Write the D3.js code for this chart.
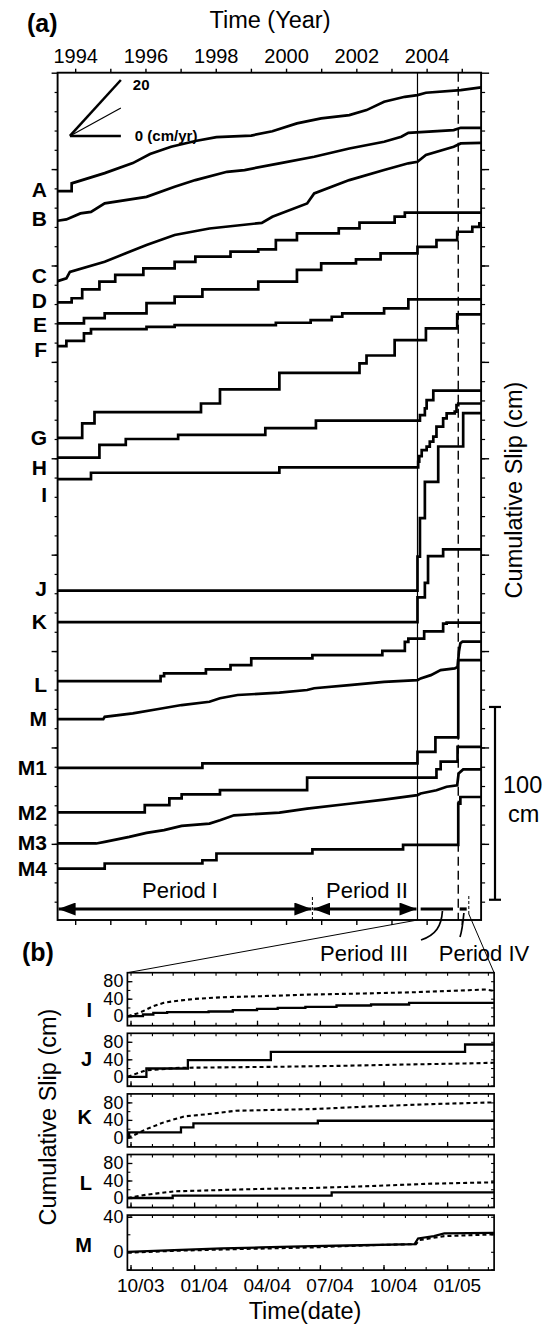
<!DOCTYPE html>
<html>
<head>
<meta charset="utf-8">
<script src="https://cdn.jsdelivr.net/npm/d3@7"></script>
<style>
  body { margin: 0; background: #fff; }
  text { font-family: "Liberation Sans", Arial, Helvetica, sans-serif; fill: #000; }
</style>
</head>
<body>
<svg id="chart" width="547" height="1326"></svg>
<script>
// ---------------- data: panel (a) ----------------
const years = d3.range(1994, 2006);
const yearLabels = [1994, 1996, 1998, 2000, 2002, 2004];
const stations = ['A', 'B', 'C', 'D', 'E', 'F', 'G', 'H', 'I', 'J', 'K', 'L', 'M', 'M1', 'M2', 'M3', 'M4'];
// level (cm on the stacked axis) where each station's curve begins
const startLevel = [378.6, 363.2, 331.9, 320.9, 310.0, 298.2, 250.6, 240.3, 229.2, 171.4, 155.0, 124.4, 104.7, 79.4, 56.3, 40.2, 27.2];
// [year, cumulative slip cm]
const slipA = [[1993.5, 0], [1993.9, 0], [1993.9, 4], [1994.84, 9.3], [1995.64, 14.5], [1996.13, 19.2], [1996.73, 23.0], [1997.42, 26.0], [1998.02, 28.0], [1999.01, 28.8], [1999.61, 31.0], [2000.31, 35.1], [2001.0, 37.7], [2001.8, 39.4], [2002.29, 42.0], [2002.79, 46.3], [2003.38, 48.9], [2003.74, 49.8], [2003.98, 51.0], [2004.97, 52.4], [2005.55, 53.8]];
const slipB = [[1993.5, 0], [1993.75, 0.7], [1994.15, 3.8], [1994.45, 4.6], [1994.84, 9.0], [1996.03, 12.4], [1996.83, 17.6], [1997.42, 21.1], [1998.32, 25.4], [1998.82, 26.3], [1999.81, 29.8], [2000.8, 33.2], [2001.8, 37.5], [2002.79, 41.0], [2003.28, 43.6], [2003.48, 45.6], [2004.77, 47.0], [2004.97, 48.2], [2005.55, 48.2]];
const slipC = [[1993.5, 0], [1993.75, 1.4], [1993.85, 4.8], [1994.84, 10.0], [1995.44, 14.4], [1996.03, 18.7], [1996.83, 23.9], [1997.82, 27.3], [1999.31, 30.2], [1999.61, 33.4], [2000.6, 40.3], [2000.8, 45.5], [2001.8, 52.4], [2002.79, 57.6], [2003.48, 61.1], [2003.74, 61.9], [2003.98, 65.4], [2004.77, 69.7], [2004.97, 71.4], [2005.55, 71.7]];
const slipD = [[1993.5, 0], [1993.9, 2.1], [1994.2, 6.7], [1994.69, 10.7], [1995.14, 14.2], [1995.94, 17.6], [1996.83, 21.0], [1997.42, 23.7], [1998.42, 26.3], [1999.21, 27.5], [1999.71, 32.3], [2000.31, 35.8], [2001.5, 38.4], [2002.09, 41.3], [2003.09, 44.4], [2003.38, 46.5]];
const slipE = [[1993.5, 0], [1994.25, 2.7], [1994.84, 5.2], [1996.03, 10.5], [1996.83, 13.8], [1997.62, 17.6], [1999.21, 21.6], [2000.31, 27.7], [2001.0, 31.1], [2001.99, 33.2], [2002.69, 36.3], [2003.74, 39.7], [2004.28, 43.2], [2004.87, 47.5], [2005.3, 50.0], [2005.5, 51.9]];
const slipF = [[1993.5, 0], [1993.75, 2.7], [1994.25, 6.6], [1994.45, 8.8], [1996.03, 10.0], [1996.83, 10.9], [1999.71, 12.1], [2000.7, 13.5], [2001.3, 15.2], [2001.6, 17.0], [2002.79, 19.6], [2003.48, 24.2]];
const slipG = [[1993.5, 0], [1994.2, 7.5], [1994.55, 13.3], [1997.58, 17.8], [1998.12, 25.1], [1999.81, 33.7], [2002.09, 38.6], [2002.29, 42.7], [2003.09, 50.7], [2003.98, 56.8], [2004.87, 64.0]];
const slipH = [[1993.5, 0], [1994.69, 6.6], [1995.44, 9.7], [1996.93, 11.8], [1999.41, 15.3], [2000.85, 19.2], [2003.81, 22.1], [2003.95, 25.6], [2004.0, 29.9], [2004.19, 34.8]];
const slipI = [[1993.5, 0], [1994.45, 3.3], [1999.81, 6.1], [2003.76, 9.0], [2003.79, 11.9], [2003.86, 15.0], [2004.0, 16.8], [2004.09, 19.4], [2004.19, 22.0], [2004.28, 27.2], [2004.47, 31.5], [2004.57, 34.1], [2004.8, 35.0], [2004.85, 38.4], [2004.9, 39.2]];
const slipJ = [[1993.5, 0], [2003.74, 17.6], [2003.81, 37.6], [2003.95, 56.4], [2004.33, 74.7], [2005.04, 92.0]];
const slipK = [[1993.5, 0], [2003.74, 12.8], [2003.95, 20.4], [2004.04, 34.2], [2004.47, 37.7]];
const slipL = [[1993.5, 0], [1996.43, 2.6], [1996.53, 4.0], [1997.72, 6.1], [1998.42, 8.3], [1999.01, 11.8], [2000.75, 13.5], [2002.74, 15.7], [2003.38, 20.4], [2003.48, 22.0], [2003.93, 25.8], [2004.47, 29.8], [2004.57, 30.4]];
const slipM = [[1993.5, 0], [1994.8, 0], [1994.84, 1.2], [1995.64, 3.0], [1996.33, 5.1], [1997.03, 7.3], [1997.82, 9.0], [1998.12, 10.8], [1998.62, 12.5], [1999.81, 13.7], [2000.6, 15.1], [2000.8, 16.0], [2001.8, 17.6], [2002.79, 19.3], [2003.74, 20.2], [2003.83, 21.1], [2004.12, 22.8], [2004.4, 25.4], [2004.8, 26.3], [2004.88, 27.1], [2004.92, 35.0], [2004.96, 39.4], [2005.02, 40.2], [2005.55, 40.2]];
const slipM1 = [[1993.5, 0], [1997.62, 2.3], [2003.74, 8.3], [2004.25, 15.8], [2004.9, 55.9]];
const slipM2 = [[1993.5, 0], [1995.98, 3.8], [1996.68, 7.3], [1997.03, 9.4], [1998.12, 11.6], [2000.6, 18.0], [2004.28, 22.4], [2004.4, 26.3], [2004.88, 34.0]];
const slipM3 = [[1993.5, 0], [1994.6, 0], [1994.84, 0.8], [1995.54, 3.4], [1996.03, 5.5], [1996.53, 6.9], [1997.03, 9.1], [1997.82, 10.3], [1998.12, 12.0], [1998.52, 14.6], [1999.81, 16.0], [2000.6, 18.1], [2001.8, 20.6], [2002.79, 22.7], [2003.74, 25.1], [2003.83, 25.9], [2004.28, 27.6], [2004.57, 29.4], [2004.87, 30.2], [2004.91, 36.3], [2005.04, 38.4], [2005.55, 38.4]];
const slipM4 = [[1993.5, 0], [1994.84, 2.6], [1997.62, 4.3], [1998.02, 7.8], [2000.75, 9.9], [2003.33, 12.3], [2004.9, 33.7], [2004.96, 37.1]];
const smoothStations = ['A', 'B', 'C', 'M', 'M3'];
const quakeYears = [2003.74, 2004.9];
const periodNames = ['Period I', 'Period II', 'Period III', 'Period IV'];
const periodStart = [1993.5, 2000.75, 2003.83, 2004.94];
const periodEnd = [2000.75, 2003.74, 2004.75, 2005.14];
const rateLegend = [0, 10, 20];      // cm/yr
const scaleBarCm = [11, 111];        // the 100 cm bar

// ---------------- data: panel (b) ----------------
const bPanels = ['I', 'J', 'K', 'L', 'M'];
const bSolidI = [['2003-09-27', 0], ['2003-10-19', 3.9], ['2003-11-03', 7.7], ['2003-11-23', 9.1], ['2004-01-22', 10.7], ['2004-02-26', 13.7], ['2004-04-01', 16.8], ['2004-05-01', 19.2], ['2004-06-10', 21.5], ['2004-07-25', 24.5], ['2004-09-13', 26.7], ['2004-11-07', 30.5]];
const bDashI = [['2003-09-27', 0], ['2003-10-14', 7.7], ['2003-11-03', 22.9], ['2003-11-18', 30.5], ['2003-12-03', 34.3], ['2004-01-02', 39.6], ['2004-02-11', 43.4], ['2004-04-06', 45.7], ['2004-06-20', 49.6], ['2004-09-03', 51.9], ['2004-11-17', 54.9], ['2005-02-01', 59.4], ['2005-02-26', 61.0], ['2005-03-08', 58.0]];
const bSolidJ = [['2003-09-27', 0], ['2003-10-24', 19.0], ['2003-12-23', 38.0], ['2004-04-21', 57.1], ['2005-01-27', 73.8]];
const bDashJ = [['2003-09-27', 0], ['2003-10-14', 10.0], ['2003-10-24', 15.1], ['2003-12-13', 20.6], ['2004-05-01', 22.9], ['2004-08-01', 25.1], ['2004-11-07', 28.2], ['2005-01-27', 30.5], ['2005-03-08', 32.0]];
const bSolidK = [['2003-09-27', 0], ['2003-09-29', 11.4], ['2003-12-13', 22.9], ['2003-12-31', 32.0], ['2004-06-28', 38.0]];
const bDashK = [['2003-09-27', 0], ['2003-10-04', 3.7], ['2003-10-24', 19.0], ['2003-11-18', 34.3], ['2003-12-18', 48.0], ['2004-01-22', 53.3], ['2004-03-01', 60.9], ['2004-06-20', 64.7], ['2004-09-13', 70.8], ['2004-12-10', 76.1], ['2005-03-08', 80.0]];
const bSolidL = [['2003-09-27', 0], ['2003-12-01', 5.3], ['2004-07-18', 12.8]];
const bDashL = [['2003-09-27', 0], ['2003-10-24', 7.6], ['2003-12-03', 15.2], ['2004-04-01', 20.6], ['2004-06-20', 22.9], ['2004-09-03', 26.7], ['2004-12-10', 32.8], ['2005-03-08', 35.8]];
const bSolidM = [['2003-09-27', 0], ['2003-12-03', 1.9], ['2004-02-11', 3.8], ['2004-04-06', 5.0], ['2004-06-20', 6.5], ['2004-08-10', 7.2], ['2004-11-15', 8.8], ['2004-11-20', 15.2], ['2004-12-13', 17.9], ['2004-12-28', 21.0], ['2005-03-08', 21.7]];
const bDashM = [['2003-09-27', -1.1], ['2003-12-03', 1.1], ['2004-03-01', 3.0], ['2004-06-20', 5.0], ['2004-09-13', 7.6], ['2004-11-17', 8.8], ['2004-11-22', 13.4], ['2004-12-28', 17.9], ['2005-03-08', 19.8]];
const bDomain = [[-21.7, 99.4], [-21.7, 99.4], [-21.7, 99.4], [-21.7, 99.4], [-20.9, 41.9]];
const bTickLabels = ['10/03', '01/04', '04/04', '07/04', '10/04', '01/05'];

// ---------------- layout ----------------
const svg = d3.select('#chart');
const labelDy = { A: 6, B: 5, C: 2, D: 6, E: 9, F: 11, G: 7, H: 17, I: 23, J: 5, K: 7, L: 11, M: 7, M1: 7, M2: 8, M3: 7, M4: 7 };
const bLabelDy = { I: 44, J: 33, K: 30, L: 35, M: 37 };

const x = d3.scaleLinear().domain([1993.5, 2005.55]).range([57.6, 481.1]);
const y = d3.scaleLinear().domain([0.5, 440]).range([920, 72.7]);
const [xL, xR] = x.range();
const [yB, yT] = y.range();

function styleAxis(g, w) {
  g.select('.domain').remove();
  g.selectAll('.tick line').attr('stroke', '#000').attr('stroke-width', w);
}

// titles
svg.append('text').attr('x', 27).attr('y', 32).attr('font-size', 25).attr('font-weight', 'bold').text('(a)');
svg.append('text').attr('x', 270).attr('y', 28).attr('font-size', 23.5).attr('text-anchor', 'middle').text('Time (Year)');

// year axes
svg.append('g').attr('transform', `translate(0,${yT})`)
  .call(d3.axisTop(x).tickValues(years).tickSize(4).tickPadding(6)
    .tickFormat(d => yearLabels.includes(d) ? d : ''))
  .call(g => styleAxis(g, 1.4))
  .call(g => g.selectAll('text').attr('font-size', 20).attr('font-family', null));
svg.append('g').attr('transform', `translate(0,${yB})`)
  .call(d3.axisBottom(x).tickValues(years).tickSize(5).tickFormat(''))
  .call(g => styleAxis(g, 1.4));

// level axes, left and right
const minorLevels = d3.range(10, 440, 10);
const majorLevels = d3.range(40, 441, 50);
svg.append('g').attr('transform', `translate(${xL},0)`)
  .call(d3.axisLeft(y).tickValues(minorLevels).tickSize(3).tickFormat(''))
  .call(g => styleAxis(g, 1.2));
svg.append('g').attr('transform', `translate(${xL},0)`)
  .call(d3.axisLeft(y).tickValues(majorLevels).tickSize(6).tickFormat(''))
  .call(g => styleAxis(g, 1.4));
svg.append('g').attr('transform', `translate(${xR},0)`)
  .call(d3.axisRight(y).tickValues(minorLevels).tickSize(4).tickFormat(''))
  .call(g => styleAxis(g, 1.2));
svg.append('g').attr('transform', `translate(${xR},0)`)
  .call(d3.axisRight(y).tickValues(majorLevels).tickSize(8).tickFormat(''))
  .call(g => styleAxis(g, 1.4));

svg.append('defs').append('clipPath').attr('id', 'clipA')
  .append('rect').attr('x', xL).attr('y', yT).attr('width', xR - xL).attr('height', yB - yT);

// earthquake markers
svg.append('line').attr('x1', x(quakeYears[0])).attr('x2', x(quakeYears[0]))
  .attr('y1', yT).attr('y2', yB).attr('stroke', '#000').attr('stroke-width', 1.2);
svg.append('line').attr('x1', x(quakeYears[1])).attr('x2', x(quakeYears[1]))
  .attr('y1', yT).attr('y2', yB).attr('stroke', '#000').attr('stroke-width', 1.4)
  .attr('stroke-dasharray', '9,5');

// station curves
const slipSeries = [slipA, slipB, slipC, slipD, slipE, slipF, slipG, slipH, slipI, slipJ, slipK, slipL, slipM, slipM1, slipM2, slipM3, slipM4];
const curves = svg.append('g').attr('clip-path', 'url(#clipA)');
stations.forEach((s, i) => {
  const pts = slipSeries[i].map(([yr, v]) => [yr, startLevel[i] + v]);
  const last = pts[pts.length - 1];
  if (last[0] < 2005.55) pts.push([2005.55, last[1]]);
  const line = d3.line().x(d => x(d[0])).y(d => y(d[1]))
    .curve(smoothStations.includes(s) ? d3.curveLinear : d3.curveStepAfter);
  curves.append('path').attr('d', line(pts)).attr('fill', 'none')
    .attr('stroke', '#000').attr('stroke-width', 2.7).attr('stroke-linejoin', 'miter');
  svg.append('text').attr('x', 47).attr('y', y(startLevel[i]) + labelDy[s])
    .attr('text-anchor', 'end').attr('font-size', 21).attr('font-weight', 'bold').text(s);
});

// frame
svg.append('rect').attr('x', xL).attr('y', yT).attr('width', xR - xL).attr('height', yB - yT)
  .attr('fill', 'none').attr('stroke', '#000').attr('stroke-width', 1.9);

// rate legend
const rateX0 = 1993.85, rateLen = 1.45, rateLevel = 407.2;
rateLegend.forEach(r => {
  svg.append('line').attr('x1', x(rateX0)).attr('y1', y(rateLevel))
    .attr('x2', x(rateX0 + rateLen)).attr('y2', y(rateLevel + r * rateLen))
    .attr('stroke', '#000').attr('stroke-width', r === 10 ? 1.2 : 2.5);
});
svg.append('text').attr('x', x(rateX0 + rateLen) + 12).attr('y', y(rateLevel + 20 * rateLen) + 10)
  .attr('font-size', 15).attr('font-weight', 'bold').text('20');
svg.append('text').attr('x', x(rateX0 + rateLen) + 14).attr('y', y(rateLevel) + 5)
  .attr('font-size', 15).attr('font-weight', 'bold').text('0 (cm/yr)');

// right axis title and 100 cm bar
svg.append('text').attr('transform', 'translate(522,490) rotate(-90)')
  .attr('text-anchor', 'middle').attr('font-size', 23.5).text('Cumulative Slip (cm)');
const barX = 495;
svg.append('line').attr('x1', barX).attr('x2', barX).attr('y1', y(scaleBarCm[0])).attr('y2', y(scaleBarCm[1]))
  .attr('stroke', '#000').attr('stroke-width', 2.2);
scaleBarCm.forEach(v => svg.append('line').attr('x1', barX - 6).attr('x2', barX + 6)
  .attr('y1', y(v)).attr('y2', y(v)).attr('stroke', '#000').attr('stroke-width', 2.2));
svg.append('text').attr('x', 503).attr('y', 793).attr('font-size', 23.5).text('100');
svg.append('text').attr('x', 508).attr('y', 822).attr('font-size', 23.5).text('cm');

// periods
const defs = svg.select('defs');
defs.append('marker').attr('id', 'arrow').attr('viewBox', '0 0 17 13')
  .attr('refX', 17).attr('refY', 6.5).attr('markerWidth', 17).attr('markerHeight', 13)
  .attr('markerUnits', 'userSpaceOnUse').attr('orient', 'auto-start-reverse')
  .append('path').attr('d', 'M0,0L17,6.5L0,13Z').attr('fill', '#000');
const periodY = 909;
[0, 1].forEach(i => {
  svg.append('line').attr('x1', x(periodStart[i]) + 1).attr('x2', x(periodEnd[i]) - 1)
    .attr('y1', periodY).attr('y2', periodY).attr('stroke', '#000').attr('stroke-width', 3.2)
    .attr('marker-start', 'url(#arrow)').attr('marker-end', 'url(#arrow)');
  svg.append('text').attr('x', (x(periodStart[i]) + x(periodEnd[i])) / 2 - (i === 0 ? 5 : -2)).attr('y', 898)
    .attr('text-anchor', 'middle').attr('font-size', 22).text(periodNames[i]);
});
[2, 3].forEach(i => {
  svg.append('line').attr('x1', x(periodStart[i])).attr('x2', x(periodEnd[i]))
    .attr('y1', periodY).attr('y2', periodY).attr('stroke', '#000').attr('stroke-width', 3.2);
});
svg.append('line').attr('x1', x(periodEnd[0])).attr('x2', x(periodEnd[0]))
  .attr('y1', 897).attr('y2', 922).attr('stroke', '#000').attr('stroke-width', 1).attr('stroke-dasharray', '3,2');
svg.append('line').attr('x1', x(2005.2)).attr('x2', x(2005.2))
  .attr('y1', 896).attr('y2', 916).attr('stroke', '#000').attr('stroke-width', 1).attr('stroke-dasharray', '3,2');
svg.append('path').attr('d', `M${x(2004.45)},911 C${x(2004.45) - 1},926 436,935 421,940`)
  .attr('fill', 'none').attr('stroke', '#000').attr('stroke-width', 1.7);
svg.append('path').attr('d', `M${x(2005.06)},913 C${x(2005.06) - 1},924 462,931 460,937`)
  .attr('fill', 'none').attr('stroke', '#000').attr('stroke-width', 1.7);
svg.append('text').attr('x', 364).attr('y', 961).attr('text-anchor', 'middle').attr('font-size', 22).text(periodNames[2]);
svg.append('text').attr('x', 484).attr('y', 961).attr('text-anchor', 'middle').attr('font-size', 22).text(periodNames[3]);

// ---------------- panel (b) ----------------
const parse = d3.timeParse('%Y-%m-%d');
const xb = d3.scaleTime().domain([new Date(2003, 8, 26, 12), new Date(2005, 2, 10)]).range([127.4, 494.1]);
const [bxL, bxR] = xb.range();
const bTop0 = 972.7, bPitch = 60.6;

svg.append('line').attr('x1', x(quakeYears[0])).attr('y1', yB).attr('x2', bxL).attr('y2', bTop0)
  .attr('stroke', '#000').attr('stroke-width', 1);
svg.append('line').attr('x1', x(2005.2)).attr('y1', 914).attr('x2', bxR).attr('y2', bTop0)
  .attr('stroke', '#000').attr('stroke-width', 1);
svg.append('text').attr('x', 22).attr('y', 961).attr('font-size', 25).attr('font-weight', 'bold').text('(b)');

const bSolid = [bSolidI, bSolidJ, bSolidK, bSolidL, bSolidM];
const bDash = [bDashI, bDashJ, bDashK, bDashL, bDashM];
const months = d3.timeMonth.range(new Date(2003, 9, 1), new Date(2005, 2, 10));
const quarters = months.filter(d => d.getMonth() % 3 === 0);
const tickDate = s => { const [m, yy] = s.split('/'); return new Date(2000 + +yy, +m - 1, 15); };

bPanels.forEach((p, i) => {
  const top = bTop0 + i * bPitch;
  const h = p === 'M' ? 55 : 53;
  const yb = d3.scaleLinear().domain(bDomain[i]).range([top + h, top]);
  const g = svg.append('g');
  g.append('clipPath').attr('id', 'clipB' + i).append('rect')
    .attr('x', bxL).attr('y', top).attr('width', bxR - bxL).attr('height', h);

  const step = 20;
  const minor = d3.range(Math.ceil(bDomain[i][0] / step) * step, bDomain[i][1], step);
  const major = p === 'M' ? [0, 40] : [0, 40, 80];

  g.append('g').attr('transform', `translate(0,${top})`)
    .call(d3.axisBottom(xb).tickValues(months).tickSize(3).tickFormat(''))
    .call(a => styleAxis(a, 1.1));
  g.append('g').attr('transform', `translate(0,${top + h})`)
    .call(d3.axisTop(xb).tickValues(months).tickSize(3).tickFormat(''))
    .call(a => styleAxis(a, 1.1));
  g.append('g').attr('transform', `translate(0,${top + h})`)
    .call(d3.axisTop(xb).tickValues(quarters).tickSize(5).tickFormat(''))
    .call(a => styleAxis(a, 1.3));
  g.append('g').attr('transform', `translate(${bxL},0)`)
    .call(d3.axisRight(yb).tickValues(minor).tickSize(3).tickFormat(''))
    .call(a => styleAxis(a, 1.1));
  g.append('g').attr('transform', `translate(${bxL},0)`)
    .call(d3.axisRight(yb).tickValues(major).tickSize(5).tickFormat(''))
    .call(a => styleAxis(a, 1.3));
  g.append('g').attr('transform', `translate(${bxR},0)`)
    .call(d3.axisLeft(yb).tickValues(minor).tickSize(3).tickFormat(''))
    .call(a => styleAxis(a, 1.1));
  g.append('g').attr('transform', `translate(${bxL},0)`)
    .call(d3.axisLeft(yb).tickValues(major).tickSize(0).tickPadding(4))
    .call(a => styleAxis(a, 1))
    .call(a => a.selectAll('text').attr('font-size', 18).attr('font-family', null));

  const series = (arr) => {
    const pts = arr.map(([d, v]) => [parse(d), v]);
    const last = pts[pts.length - 1];
    if (last[0] < xb.domain()[1]) pts.push([xb.domain()[1], last[1]]);
    return pts;
  };
  const lineStep = d3.line().x(d => xb(d[0])).y(d => yb(d[1]))
    .curve(p === 'M' ? d3.curveLinear : d3.curveStepAfter);
  const lineLin = d3.line().x(d => xb(d[0])).y(d => yb(d[1]));
  const cg = g.append('g').attr('clip-path', `url(#clipB${i})`);
  cg.append('path').attr('d', lineLin(series(bDash[i]))).attr('fill', 'none')
    .attr('stroke', '#000').attr('stroke-width', 2.1).attr('stroke-dasharray', '4,3');
  cg.append('path').attr('d', lineStep(series(bSolid[i]))).attr('fill', 'none')
    .attr('stroke', '#000').attr('stroke-width', 2.3);

  g.append('rect').attr('x', bxL).attr('y', top).attr('width', bxR - bxL).attr('height', h)
    .attr('fill', 'none').attr('stroke', '#000').attr('stroke-width', 1.7);
  g.append('text').attr('x', 92).attr('y', top + bLabelDy[p]).attr('text-anchor', 'end')
    .attr('font-size', 20).attr('font-weight', 'bold').text(p);

  if (i === bPanels.length - 1) {
    g.append('g').attr('transform', `translate(0,${top + h})`)
      .call(d3.axisBottom(xb).tickValues(bTickLabels.map(tickDate)).tickSize(0).tickPadding(8)
        .tickFormat((d, k) => bTickLabels[k]))
      .call(a => styleAxis(a, 1))
      .call(a => a.selectAll('text').attr('font-size', 19).attr('font-family', null));
  }
});

svg.append('text').attr('transform', 'translate(56,1117) rotate(-90)')
  .attr('text-anchor', 'middle').attr('font-size', 23.5).text('Cumulative Slip (cm)');
svg.append('text').attr('x', 305).attr('y', 1319).attr('text-anchor', 'middle')
  .attr('font-size', 23.5).text('Time(date)');
</script>
</body>
</html>
